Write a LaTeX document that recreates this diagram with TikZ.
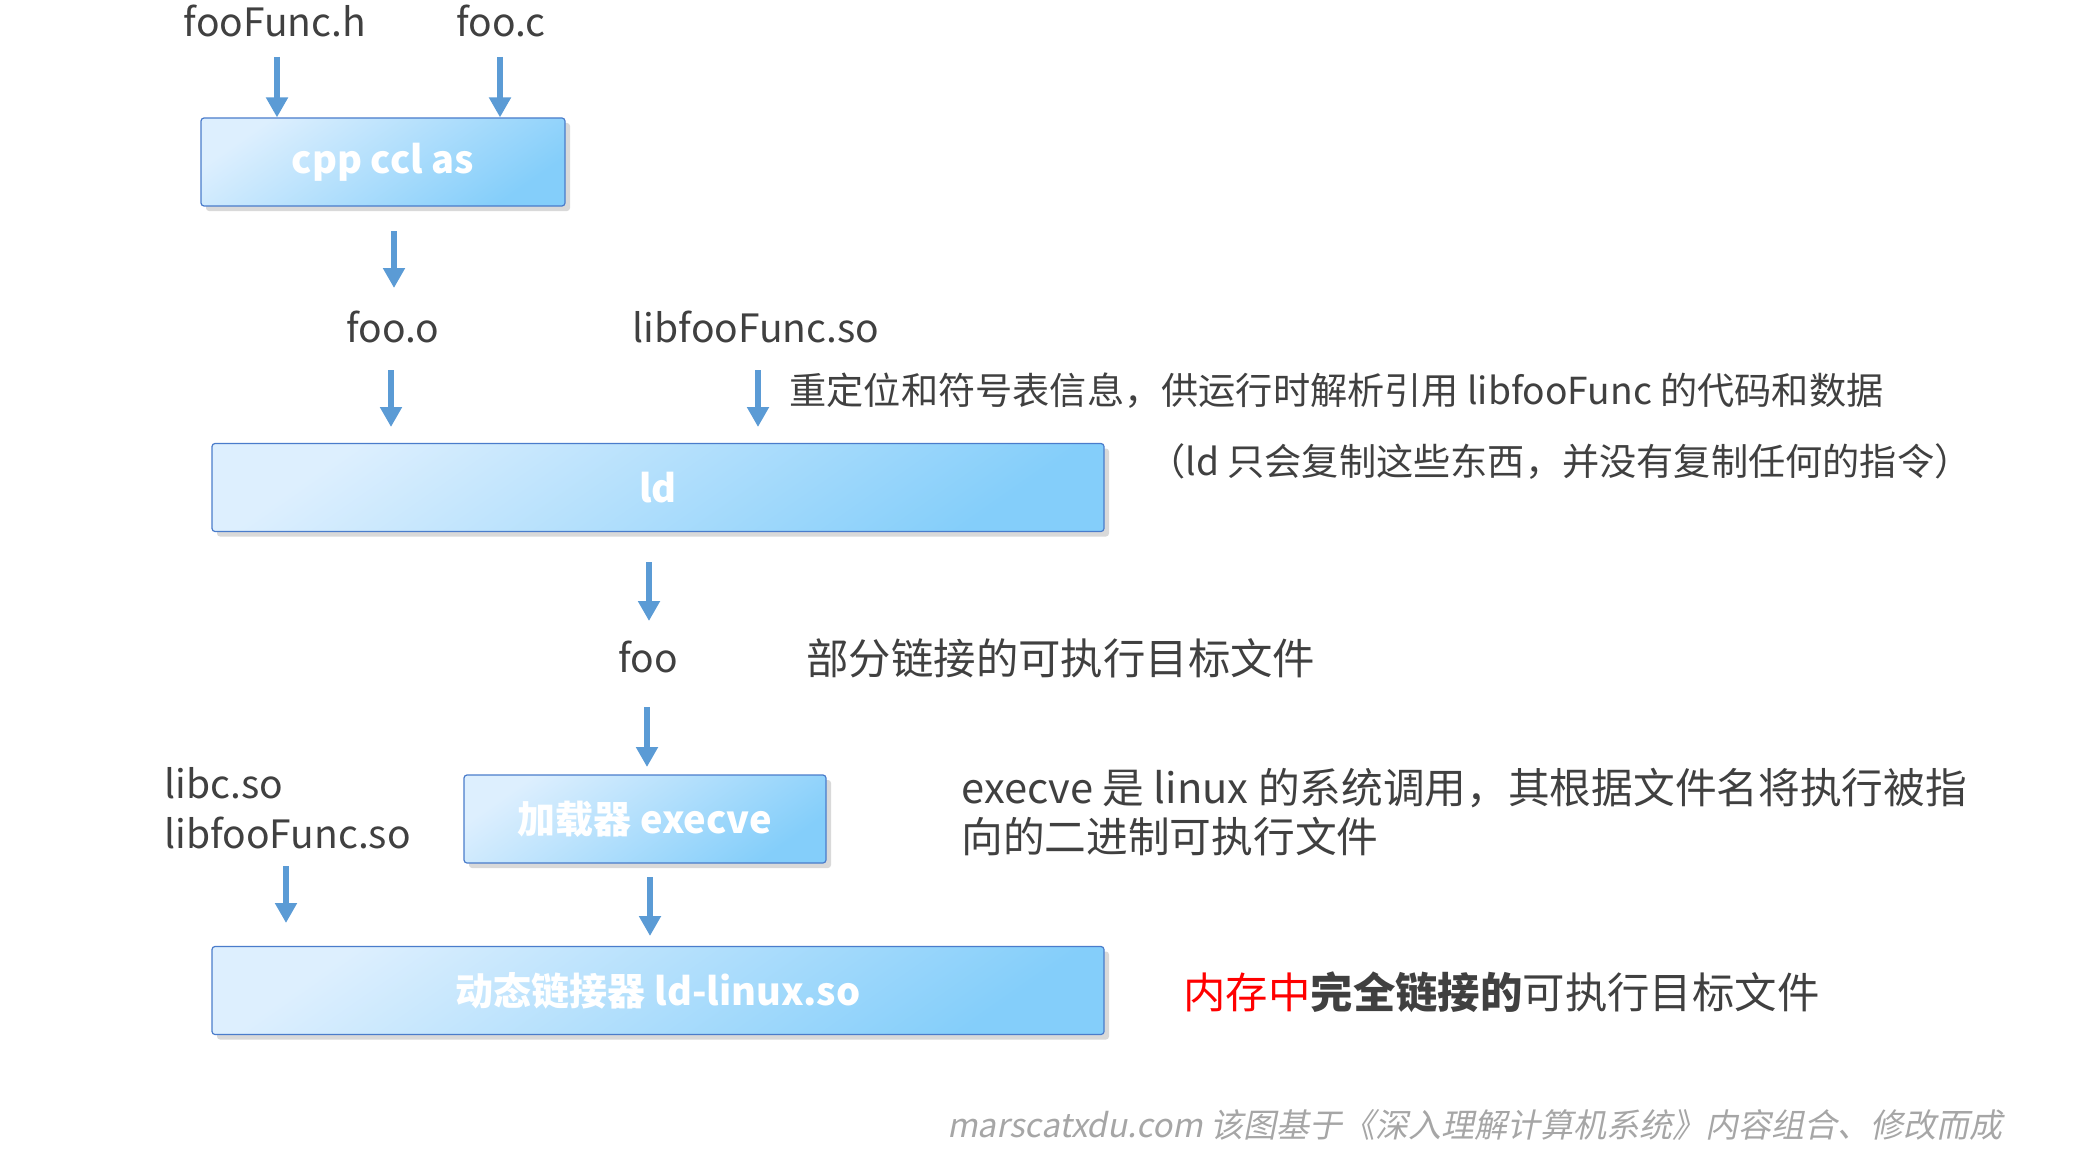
\documentclass[tikz,border=0pt]{standalone}
\usepackage{fontspec}
\setmainfont{Noto Sans CJK SC}
\newfontfamily\slantfont{Noto Sans CJK SC}[FakeSlant=0.2]
\usetikzlibrary{arrows.meta,shadows}
\definecolor{txt}{HTML}{404040}
\definecolor{arrc}{HTML}{5B9BD5}
\definecolor{boxl}{HTML}{DDEFFE}
\definecolor{boxd}{HTML}{84CEFA}
\definecolor{boxb}{HTML}{4A7CCB}
\definecolor{foot}{HTML}{A6A6A6}
\definecolor{redt}{HTML}{FF0000}
\begin{document}
\begin{tikzpicture}[x=0.5pt,y=-0.5pt,
  lbl/.style={font=\fontsize{19.5}{23}\selectfont, text=txt, inner sep=0},
  note/.style={font=\fontsize{21.2}{25}\selectfont, text=txt, inner sep=0, anchor=west, align=left},
  smallnote/.style={font=\fontsize{18.6}{22}\selectfont, text=txt, inner sep=0, anchor=west},
  procbox/.style={draw=boxb, line width=0.6pt, rounded corners=1.5pt,
    top color=boxl, bottom color=boxd, shading angle=35,
    drop shadow={opacity=0.3, shadow xshift=2.5pt, shadow yshift=-2.5pt},
    text=white, font=\bfseries\fontsize{19}{22}\selectfont, inner sep=0,
    minimum height=44pt},
  arr/.style={draw=arrc, line width=3.3pt, -{Triangle[width=10.5pt,length=10pt]}}
]
\useasboundingbox (0,0) rectangle (2073,1161);

% labels
\node[lbl] (fh) at (275,21) {fooFunc.h};
\node[lbl] (fc) at (501,21) {foo.c};
\node[procbox, minimum width=182pt] (cpp) at (383,162) {cpp ccl as};
\node[lbl] (fo) at (393,327) {foo.o};
\node[lbl] (lfs) at (756,327) {libfooFunc.so};
\node[smallnote] (n1) at (789,391) {重定位和符号表信息，供运行时解析引用 libfooFunc 的代码和数据};
\node[smallnote] (n2) at (1148,462) {（ld 只会复制这些东西，并没有复制任何的指令）};
\node[procbox, minimum width=446pt] (ld) at (658,487.5) {ld};
\node[lbl] (foo) at (648,657) {foo};
\node[note] (n3) at (806,658) {部分链接的可执行目标文件};
\node[lbl, anchor=west] (libc) at (164,783) {libc.so};
\node[lbl, anchor=west] (libf) at (164,833) {libfooFunc.so};
\node[procbox, minimum width=181pt] (loader) at (645,819) {加载器 execve};
\node[note, font=\fontsize{20.85}{25}\selectfont] (n4) at (961,812) {execve 是 linux 的系统调用，其根据文件名将执行被指\\[-0.5pt]向的二进制可执行文件};
\node[procbox, minimum width=446pt] (dyn) at (658,990.5) {动态链接器 ld-linux.so};
\node[note] (n5) at (1183,992) {{\color{redt}内存中}{\bfseries 完全链接的}可执行目标文件};
\node[inner sep=0, anchor=west, text=foot, font=\slantfont\fontsize{16.5}{20}\selectfont] (ft) at (947,1125) {marscatxdu.com 该图基于《深入理解计算机系统》内容组合、修改而成};

% arrows
\coordinate (s1) at (277,57);
\coordinate (s2) at (500,57);
\draw[arr] (s1) -- (s1 |- cpp.north);
\draw[arr] (s2) -- (s2 |- cpp.north);
\coordinate (s3) at (394,231);
\coordinate (e3) at (394,288);
\draw[arr] (s3) -- (e3);
\coordinate (s4) at (391,370);
\coordinate (e4) at (391,427);
\draw[arr] (s4) -- (e4);
\coordinate (s5) at (758,370);
\coordinate (e5) at (758,427);
\draw[arr] (s5) -- (e5);
\coordinate (s6) at (649,562);
\coordinate (e6) at (649,621);
\draw[arr] (s6) -- (e6);
\coordinate (s7) at (647,707);
\coordinate (e7) at (647,767);
\draw[arr] (s7) -- (e7);
\coordinate (s8) at (286,866);
\coordinate (e8) at (286,923);
\draw[arr] (s8) -- (e8);
\coordinate (s9) at (650,877);
\coordinate (e9) at (650,936);
\draw[arr] (s9) -- (e9);
\end{tikzpicture}
\end{document}
